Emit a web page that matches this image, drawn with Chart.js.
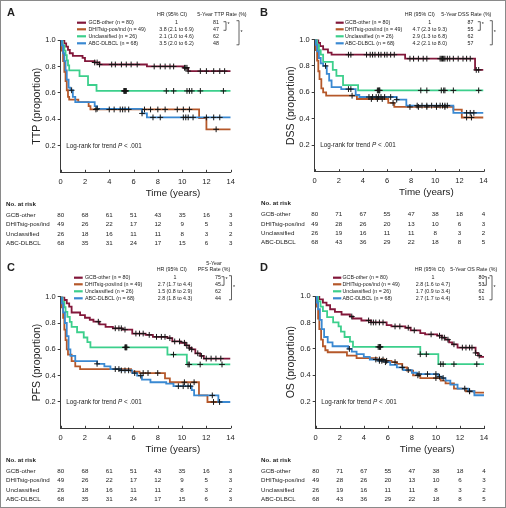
<!DOCTYPE html>
<html>
<head>
<meta charset="utf-8">
<script src="https://cdn.jsdelivr.net/npm/chart.js@4.4.1/dist/chart.umd.min.js"></script>
<style>
  html, body { margin: 0; padding: 0; background: #fff; }
  #fig { position: relative; width: 506px; height: 508px; overflow: hidden; }
  #fig canvas { position: absolute; left: 0; top: 0; }
  #frame { position: absolute; left: 0; top: 0; width: 506px; height: 508px; box-sizing: border-box; border: 1px solid #8a8a8a; }
</style>
</head>
<body>
<div id="fig">
  <canvas id="panelA" width="506" height="508"></canvas>
  <canvas id="panelB" width="506" height="508"></canvas>
  <canvas id="panelC" width="506" height="508"></canvas>
  <canvas id="panelD" width="506" height="508"></canvas>
  <div id="frame"></div>
</div>
<script>
// ---- data ----
const years = [0, 2, 4, 6, 8, 10, 12, 14];
const proportions = [0.2, 0.4, 0.6, 0.8, 1.0];
const groups = ['GCB-other', 'DHITsig-pos/ind', 'Unclassified', 'ABC-DLBCL'];
const groupN = [80, 49, 26, 68];

// Kaplan-Meier steps: [time (years), proportion after the step]
const ttpGcb = [[0,1],[0.3,0.975],[0.45,0.95],[0.6,0.925],[0.75,0.9],[1.0,0.88],[1.8,0.865],[2.0,0.84],[2.8,0.83],[3.2,0.815],[7.1,0.8],[10.1,0.79],[10.5,0.765],[14,0.765]];
const ttpDhit = [[0,1],[0.1,0.92],[0.2,0.84],[0.3,0.76],[0.4,0.69],[0.5,0.62],[0.6,0.57],[0.7,0.55],[1.45,0.53],[2.3,0.5],[2.45,0.475],[11.4,0.41],[12.0,0.325],[14,0.325]];
const ttpUnc = [[0,1],[0.15,0.96],[0.3,0.92],[0.4,0.885],[0.5,0.846],[0.6,0.808],[0.7,0.77],[1.55,0.727],[2.25,0.66],[2.95,0.615],[14,0.615]];
const ttpAbc = [[0,1],[0.1,0.96],[0.2,0.9],[0.3,0.84],[0.4,0.77],[0.5,0.7],[0.65,0.64],[0.8,0.62],[1.0,0.57],[1.2,0.53],[2.8,0.5],[3.0,0.48],[6.7,0.445],[7.1,0.415],[14,0.415]];
const ttpGcbCens = [2.8,3.0,3.2,4.2,4.5,5.0,5.4,5.8,6.3,7.7,8.2,8.6,9.0,9.3,10.2,10.3,10.4,10.5,11.5,12.0,12.6,13.1,13.5];
const ttpDhitCens = [2.9,4.0,4.4,4.9,5.1,5.3,5.6,6.9,7.4,8.0,8.6,9.6,10.1,10.6,12.8];
const ttpUncCens = [5.2,5.25,5.3,5.35,5.4,8.7,9.3,10.4,10.6,10.8,11.5,13.4];
const ttpAbcCens = [0.9,3.0,6.7,7.6,8.2,10.1,10.3,10.5,10.9,12.0,12.6,13.1];

const dssGcb = [[0,1],[0.3,0.975],[0.45,0.95],[0.7,0.925],[1.1,0.9],[1.4,0.885],[7.5,0.855],[13.3,0.77],[14,0.77]];
const dssDhit = [[0,1],[0.1,0.92],[0.2,0.84],[0.3,0.76],[0.4,0.7],[0.55,0.63],[0.7,0.6],[0.95,0.575],[3.5,0.55],[6.1,0.52],[6.6,0.49],[11.5,0.47],[12.2,0.41],[14,0.41]];
const dssUnc = [[0,1],[0.2,0.96],[0.35,0.92],[0.5,0.885],[0.7,0.83],[1.5,0.77],[1.8,0.725],[2.35,0.655],[3.6,0.615],[14,0.615]];
const dssAbc = [[0,1],[0.1,0.96],[0.2,0.91],[0.35,0.86],[0.5,0.82],[0.7,0.8],[1.0,0.74],[1.2,0.69],[1.4,0.64],[2.2,0.625],[3.4,0.58],[3.7,0.565],[6.8,0.545],[7.6,0.5],[11.5,0.445],[14,0.445]];
const dssGcbCens = [2.8,3.0,4.3,4.6,4.8,5.0,5.3,5.5,5.8,6.0,6.3,6.6,7.9,8.2,8.6,9.0,9.3,10.4,10.5,10.6,10.7,10.8,11.0,11.2,11.5,11.9,12.3,12.6,12.9,13.4,13.6];
const dssDhitCens = [3.1,4.7,5.2,5.6,6.5,7.9,8.6,9.3,10.1,10.8,12.6,13.0];
const dssUncCens = [5.2,5.3,5.35,5.4,8.8,9.3,10.5,10.7,10.8,11.5,13.6];
const dssAbcCens = [0.9,2.8,3.0,4.5,4.8,5.1,5.3,5.5,5.8,6.3,6.8,8.5,8.9,9.3,9.7,10.1,10.4,10.6,10.8,11.0,12.6,12.9,13.2];

const pfsGcb = [[0,1],[0.3,0.975],[0.5,0.95],[0.7,0.925],[0.9,0.88],[1.6,0.86],[2.0,0.84],[2.4,0.825],[2.7,0.81],[3.2,0.79],[3.7,0.77],[4.3,0.76],[5.1,0.75],[5.9,0.72],[7.0,0.71],[7.6,0.695],[8.8,0.685],[9.2,0.66],[9.9,0.65],[10.3,0.63],[10.6,0.61],[10.8,0.6],[11.1,0.57],[11.5,0.55],[11.8,0.53],[14,0.53]];
const pfsDhit = [[0,1],[0.1,0.92],[0.2,0.84],[0.3,0.75],[0.4,0.67],[0.5,0.6],[0.6,0.56],[0.9,0.51],[1.2,0.47],[1.6,0.45],[5.8,0.43],[6.5,0.42],[8.6,0.38],[9.0,0.35],[11.4,0.25],[12.1,0.2],[12.9,0.2]];
const pfsUnc = [[0,1],[0.15,0.96],[0.3,0.92],[0.4,0.885],[0.55,0.846],[0.75,0.808],[0.9,0.77],[1.35,0.73],[1.9,0.69],[2.2,0.655],[2.45,0.615],[8.8,0.56],[10.4,0.485],[14,0.485]];
const pfsAbc = [[0,1],[0.1,0.95],[0.2,0.88],[0.35,0.8],[0.5,0.7],[0.65,0.6],[0.8,0.55],[1.2,0.51],[3.0,0.49],[3.6,0.47],[4.1,0.45],[4.9,0.44],[5.9,0.42],[6.3,0.4],[6.7,0.37],[7.4,0.35],[8.7,0.34],[9.3,0.32],[10.8,0.29],[11.0,0.25],[13.0,0.2],[14,0.2]];
const pfsGcbCens = [3.1,4.5,4.8,5.0,5.3,6.2,6.5,6.8,7.3,7.9,8.3,8.6,9.0,9.4,9.8,10.2,10.4,10.6,10.8,11.3,11.6,12.0,12.4,12.8,13.2];
const pfsDhitCens = [4.5,4.8,6.8,7.2,8.0,10.2,11.0,12.6];
const pfsUncCens = [5.3,5.35,5.4,5.45,9.3,10.5,10.6,11.5,13.3];
const pfsAbcCens = [3.0,5.0,5.3,5.6,6.1,6.6,9.7,10.1,10.5,10.7,12.5,13.1];

const osGcb = [[0,1],[0.3,0.975],[0.6,0.95],[0.9,0.93],[1.2,0.9],[1.6,0.88],[2.15,0.86],[2.85,0.845],[3.1,0.83],[3.8,0.815],[4.6,0.8],[5.9,0.78],[6.3,0.77],[7.45,0.76],[7.9,0.74],[8.7,0.72],[9.1,0.71],[10.1,0.7],[10.5,0.685],[10.8,0.67],[11.1,0.65],[11.35,0.635],[11.8,0.61],[13.3,0.57],[13.5,0.55],[13.7,0.54],[14,0.54]];
const osDhit = [[0,1],[0.1,0.92],[0.2,0.83],[0.3,0.75],[0.45,0.67],[0.6,0.62],[0.8,0.59],[1.0,0.575],[2.6,0.55],[3.4,0.53],[5.1,0.52],[5.7,0.51],[6.3,0.5],[6.75,0.487],[7.2,0.46],[7.6,0.436],[8.1,0.4],[8.7,0.38],[10.4,0.36],[10.8,0.34],[11.5,0.3],[12.5,0.28],[13.2,0.27],[14,0.27]];
const osUnc = [[0,1],[0.2,0.96],[0.4,0.92],[0.6,0.885],[0.95,0.84],[1.45,0.8],[1.9,0.77],[2.1,0.73],[2.4,0.69],[2.85,0.655],[3.1,0.615],[8.7,0.56],[10.2,0.485],[14,0.485]];
const osAbc = [[0,1],[0.1,0.95],[0.2,0.9],[0.35,0.82],[0.5,0.75],[0.7,0.69],[1.0,0.65],[1.4,0.62],[2.7,0.6],[3.0,0.58],[3.4,0.56],[4.0,0.54],[4.5,0.52],[5.2,0.51],[5.8,0.5],[6.2,0.48],[6.75,0.46],[7.3,0.44],[8.0,0.42],[8.4,0.41],[10.2,0.39],[10.5,0.38],[10.8,0.36],[11.2,0.33],[11.8,0.3],[12.7,0.28],[13.2,0.25],[14,0.25]];
const osGcbCens = [3.0,4.4,4.6,4.8,5.0,5.3,5.6,6.6,7.0,7.7,8.2,9.6,10.3,10.5,10.7,11.0,11.5,12.2,12.5,12.8,13.0,13.3,13.6];
const osDhitCens = [5.3,5.6,5.9,6.6,8.5,10.0,12.8];
const osUncCens = [5.2,5.3,5.35,5.4,8.7,9.2,10.4,10.6,11.5,13.4];
const osAbcCens = [2.8,5.0,5.3,5.5,5.8,7.2,7.7,8.6,9.3,10.0,10.3,10.6,12.4,12.8];

const ttpHr = ['1', '3.8 (2.1 to 6.9)', '2.1 (1.0 to 4.6)', '3.5 (2.0 to 6.2)'];
const ttpRate = [81, 47, 62, 48];
const dssHr = ['1', '4.7 (2.3 to 9.3)', '2.9 (1.3 to 6.8)', '4.2 (2.1 to 8.0)'];
const dssRate = [87, 55, 62, 57];
const pfsHr = ['1', '2.7 (1.7 to 4.4)', '1.5 (0.8 to 2.9)', '2.8 (1.8 to 4.3)'];
const pfsRate = [75, 45, 62, 44];
const osHr = ['1', '2.8 (1.6 to 4.7)', '1.7 (0.9 to 3.4)', '2.7 (1.7 to 4.4)'];
const osRate = [80, 53, 62, 51];

// numbers at risk at 0, 2, ... 14 years
const riskTtpPfs = [[80,68,61,51,43,35,16,3],[49,26,22,17,12,9,5,3],[26,18,16,11,11,8,3,2],[68,35,31,24,17,15,6,3]];
const riskDssOs = [[80,71,67,55,47,38,18,4],[49,28,26,20,13,10,6,3],[26,19,16,11,11,8,3,2],[68,43,36,29,22,18,8,5]];

// ---- styling ----
const FONT = '"Liberation Sans", Arial, Helvetica, sans-serif';
const INK = '#222';
const AXIS = '#3a3a3a';
const COLORS = ['#82173a', '#b5582a', '#3ccf8c', '#3a89d2'];
const Y_AXIS_W = 22;
const X_AXIS_H = 14;

const panels = [
  { id: 'panelA', letter: 'A', yTitle: 'TTP (proportion)',
    curves: [ttpGcb, ttpDhit, ttpUnc, ttpAbc], cens: [ttpGcbCens, ttpDhitCens, ttpUncCens, ttpAbcCens],
    hr: ttpHr, rate: ttpRate, risk: riskTtpPfs, rateHead: ['5-Year TTP Rate (%)'],
    L: 60.7, R: 230.7, T: 40, B: 172.3, letterX: 7, letterY: 17.3, yTitleX: 37.5, rowLabelX: 6,
    lineX0: 77, lineX1: 86, textX: 88.5, hrX: 176.5, rateX: 216, hrHeadX: 172, rateHeadX: 222,
    headY: [14.7], rowY: [22.7, 29.3, 36.3, 43.3], brSmallX: 226, brBigX: 239 },
  { id: 'panelB', letter: 'B', yTitle: 'DSS (proportion)',
    curves: [dssGcb, dssDhit, dssUnc, dssAbc], cens: [dssGcbCens, dssDhitCens, dssUncCens, dssAbcCens],
    hr: dssHr, rate: dssRate, risk: riskDssOs, rateHead: ['5-Year DSS Rate (%)'],
    L: 314.7, R: 483.5, T: 39.5, B: 171.7, letterX: 260, letterY: 17.3, yTitleX: 290.7, rowLabelX: 261,
    lineX0: 335.7, lineX1: 343.7, textX: 345, hrX: 429.7, rateX: 470.5, hrHeadX: 419.7, rateHeadX: 466.3,
    headY: [14.7], rowY: [22.7, 29.3, 36.3, 43.3], brSmallX: 480.3, brBigX: 492.3 },
  { id: 'panelC', letter: 'C', yTitle: 'PFS (proportion)',
    curves: [pfsGcb, pfsDhit, pfsUnc, pfsAbc], cens: [pfsGcbCens, pfsDhitCens, pfsUncCens, pfsAbcCens],
    hr: pfsHr, rate: pfsRate, risk: riskTtpPfs, rateHead: ['5-Year', 'PFS Rate (%)'],
    L: 60.7, R: 230.5, T: 296.7, B: 428.3, letterX: 7, letterY: 272.3, yTitleX: 37.3, rowLabelX: 6,
    lineX0: 74, lineX1: 82.7, textX: 85, hrX: 175, rateX: 218, hrHeadX: 171.7, rateHeadX: 214,
    headY: [263.3, 269.7], rowY: [277.7, 284.3, 291.3, 298.3], brSmallX: 224, brBigX: 231.5 },
  { id: 'panelD', letter: 'D', yTitle: 'OS (proportion)',
    curves: [osGcb, osDhit, osUnc, osAbc], cens: [osGcbCens, osDhitCens, osUncCens, osAbcCens],
    hr: osHr, rate: osRate, risk: riskDssOs, rateHead: ['5-Year OS Rate (%)'],
    L: 315.7, R: 484, T: 296, B: 428.3, letterX: 260, letterY: 272.3, yTitleX: 291.3, rowLabelX: 261,
    lineX0: 333, lineX1: 341.3, textX: 342.5, hrX: 433, rateX: 481.5, hrHeadX: 429.7, rateHeadX: 473.7,
    headY: [269.7], rowY: [277.7, 284.3, 291.3, 298.3], brSmallX: 486.3, brBigX: 492 }
];

function survAt(curve, t) {
  let s = curve[0][1];
  for (const [ti, si] of curve) if (ti <= t) s = si;
  return s;
}

function text(ctx, str, x, y, size, align, weight, style) {
  ctx.font = `${style || 'normal'} ${weight || 'normal'} ${size}px ${FONT}`;
  ctx.textAlign = align || 'left';
  ctx.textBaseline = 'middle';
  ctx.fillText(str, x, y);
}

function bracket(ctx, x, y0, y1) {
  ctx.beginPath();
  ctx.moveTo(x - 2.5, y0);
  ctx.lineTo(x, y0);
  ctx.lineTo(x, y1);
  ctx.lineTo(x - 2.5, y1);
  ctx.stroke();
}

function panelPlugin(p) {
  return {
    id: 'panelText',
    afterDraw(chart) {
      const ctx = chart.ctx, xs = chart.scales.x, ys = chart.scales.y, a = chart.chartArea;
      ctx.save();
      ctx.fillStyle = INK;

      // inward ticks on the time axis
      ctx.strokeStyle = AXIS;
      ctx.lineWidth = 1;
      years.forEach(v => {
        const x = Math.round(xs.getPixelForValue(v)) + 0.5;
        ctx.beginPath();
        ctx.moveTo(x, a.bottom);
        ctx.lineTo(x, a.bottom - 2.5);
        ctx.stroke();
      });

      // panel letter and axis titles
      text(ctx, p.letter, p.letterX, p.letterY - 4, 11, 'left', 'bold');
      text(ctx, 'Time (years)', (a.left + a.right) / 2, a.bottom + 21, 9.8);
      ctx.save();
      ctx.translate(p.yTitleX, (a.top + a.bottom) / 2);
      ctx.rotate(-Math.PI / 2);
      text(ctx, p.yTitle, 0, 0, 10.5, 'center');
      ctx.restore();

      // log-rank note
      let lx = a.left + 5.5;
      const ly = ys.getPixelForValue(0.2);
      ctx.font = `6.3px ${FONT}`;
      text(ctx, 'Log-rank for trend ', lx, ly, 6.3);
      lx += ctx.measureText('Log-rank for trend ').width;
      text(ctx, 'P', lx, ly, 6.3, 'left', 'normal', 'italic');
      ctx.font = `italic 6.3px ${FONT}`;
      lx += ctx.measureText('P').width;
      text(ctx, ' < .001', lx, ly, 6.3);

      // legend table
      text(ctx, 'HR (95% CI)', p.hrHeadX, p.headY[p.headY.length - 1], 5.3, 'center');
      p.rateHead.forEach((h, k) => text(ctx, h, p.rateHeadX, p.headY[k], 5.3, 'center'));
      groups.forEach((g, i) => {
        const y = p.rowY[i];
        ctx.strokeStyle = COLORS[i];
        ctx.lineWidth = 2.2;
        ctx.beginPath();
        ctx.moveTo(p.lineX0, y);
        ctx.lineTo(p.lineX1, y);
        ctx.stroke();
        text(ctx, `${g} (n = ${groupN[i]})`, p.textX, y, 5.3);
        text(ctx, p.hr[i], p.hrX, y, 5.3, 'center');
        text(ctx, String(p.rate[i]), p.rateX, y, 5.3, 'center');
      });
      ctx.strokeStyle = AXIS;
      ctx.lineWidth = 0.8;
      bracket(ctx, p.brSmallX, p.rowY[0] - 1, p.rowY[1] + 1);
      bracket(ctx, p.brBigX, p.rowY[0] - 2, p.rowY[3] + 1.5);
      text(ctx, '*', p.brSmallX + 1.5, p.rowY[0] + 1.5, 5.3);
      text(ctx, '*', p.brBigX + 1.5, (p.rowY[1] + p.rowY[2]) / 2, 5.3);

      // numbers at risk
      text(ctx, 'No. at risk', p.rowLabelX, a.bottom + 32, 6.2, 'left', 'bold');
      groups.forEach((g, i) => {
        const y = a.bottom + 42.7 + i * 9.4;
        text(ctx, g, p.rowLabelX, y, 6.2);
        p.risk[i].forEach((n, j) => text(ctx, String(n), xs.getPixelForValue(years[j]), y, 6.2, 'center'));
      });
      ctx.restore();
    }
  };
}

function makePanel(p) {
  const censors = [];
  p.curves.forEach((c, i) => p.cens[i].forEach(t => censors.push({ x: t, y: survAt(c, t) })));
  const datasets = [{
    data: censors, showLine: false, pointStyle: 'cross', pointRadius: 2.9,
    borderColor: '#151515', borderWidth: 1, order: 0
  }];
  p.curves.forEach((c, i) => datasets.push({
    data: c.map(([x, y]) => ({ x, y })), stepped: true, borderColor: COLORS[i],
    borderWidth: 1.8, pointRadius: 0, fill: false, order: 4 - i
  }));

  const tickFont = { family: FONT, size: 7.5 };
  new Chart(document.getElementById(p.id), {
    type: 'line',
    data: { datasets },
    options: {
      responsive: false,
      animation: false,
      events: [],
      layout: { padding: { left: p.L - Y_AXIS_W, top: p.T, right: 506 - p.R, bottom: 508 - p.B - X_AXIS_H } },
      plugins: { legend: { display: false }, tooltip: { enabled: false } },
      scales: {
        x: {
          type: 'linear', min: 0, max: 14,
          afterBuildTicks: s => { s.ticks = years.map(v => ({ value: v })); },
          afterFit: s => { s.height = X_AXIS_H; },
          ticks: { font: tickFont, color: INK, padding: 5, maxRotation: 0, autoSkip: false },
          grid: { display: false, drawTicks: false },
          border: { display: true, color: AXIS, width: 1 }
        },
        y: {
          min: 0, max: 1,
          afterBuildTicks: s => { s.ticks = proportions.map(v => ({ value: v })); },
          afterFit: s => { s.width = Y_AXIS_W; },
          ticks: { font: tickFont, color: INK, padding: 2, callback: v => v.toFixed(1) },
          grid: { display: true, drawOnChartArea: false, drawTicks: true, tickLength: 3, color: AXIS },
          border: { display: true, color: AXIS, width: 1 }
        }
      }
    },
    plugins: [panelPlugin(p)]
  });
}

panels.forEach(makePanel);
</script>
</body>
</html>
